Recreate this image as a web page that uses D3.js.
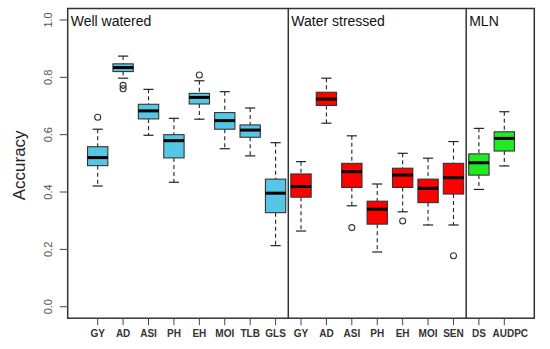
<!DOCTYPE html>
<html>
<head>
<meta charset="utf-8">
<script src="https://cdn.jsdelivr.net/npm/d3@7"></script>
<style>
  body { margin: 0; background: #fff; }
  svg { font-family: Arial, "Liberation Sans", sans-serif; }
</style>
</head>
<body>
<div id="chart"></div>
<script>
// trait labels, one per box
const labels = ["GY", "AD", "ASI", "PH", "EH", "MOI", "TLB", "GLS",
                "GY", "AD", "ASI", "PH", "EH", "MOI", "SEN",
                "DS", "AUDPC"];
const groups = ["WW", "WW", "WW", "WW", "WW", "WW", "WW", "WW",
                "WS", "WS", "WS", "WS", "WS", "WS", "WS",
                "MLN", "MLN"];
// box stats
const lowWhisker = [0.421, 0.797, 0.598, 0.434, 0.654, 0.551, 0.526, 0.213,
                    0.264, 0.640, 0.352, 0.191, 0.331, 0.285, 0.285,
                    0.409, 0.491];
const q1 = [0.492, 0.820, 0.655, 0.519, 0.707, 0.619, 0.591, 0.328,
            0.382, 0.702, 0.416, 0.288, 0.416, 0.363, 0.393,
            0.459, 0.543];
const medians = [0.520, 0.834, 0.683, 0.579, 0.730, 0.649, 0.616, 0.396,
                 0.419, 0.724, 0.471, 0.340, 0.459, 0.413, 0.450,
                 0.502, 0.587];
const q3 = [0.558, 0.847, 0.706, 0.600, 0.744, 0.677, 0.634, 0.445,
            0.463, 0.748, 0.500, 0.368, 0.483, 0.445, 0.500,
            0.533, 0.610];
const highWhisker = [0.619, 0.874, 0.758, 0.657, 0.788, 0.750, 0.693, 0.572,
                     0.506, 0.797, 0.596, 0.428, 0.535, 0.518, 0.576,
                     0.622, 0.680];
// outliers: [box index, value]
const outliers = [[0, 0.661], [1, 0.772], [1, 0.760], [4, 0.808],
                  [10, 0.276], [12, 0.299], [14, 0.178]];
const panelTitles = ["Well watered", "Water stressed", "MLN"];
const panelStarts = [-0.18, 8.5, 15.5];
const yTicks = [0, 0.2, 0.4, 0.6, 0.8, 1.0];

const colors = { WW: "#55c6e6", WS: "#ff0000", MLN: "#22ea22" };

const width = 550, height = 349;
const svg = d3.select("#chart").append("svg")
  .attr("width", width)
  .attr("height", height);

// R style axis extents: xlim 0.5..17.5 and ylim 0..1 padded by 4%
const x = d3.scaleLinear().domain([-0.18, 18.18]).range([67.7, 534.3]);
const y = d3.scaleLinear().domain([-0.04, 1.04]).range([318.2, 8.5]);

const step = x(2) - x(1);
const boxW = step * 0.8;
const capW = boxW * 0.5;

const data = labels.map((l, i) => ({
  label: l, group: groups[i], pos: i + 1,
  lo: lowWhisker[i], q1: q1[i], med: medians[i], q3: q3[i], hi: highWhisker[i]
}));

const boxes = svg.append("g").selectAll("g")
  .data(data)
  .enter().append("g");

// whiskers (dashed)
boxes.append("line")
  .attr("x1", d => x(d.pos)).attr("x2", d => x(d.pos))
  .attr("y1", d => y(d.hi)).attr("y2", d => y(d.q3))
  .attr("stroke", "#222").attr("stroke-width", 1.1)
  .attr("stroke-dasharray", "4,3");
boxes.append("line")
  .attr("x1", d => x(d.pos)).attr("x2", d => x(d.pos))
  .attr("y1", d => y(d.q1)).attr("y2", d => y(d.lo))
  .attr("stroke", "#222").attr("stroke-width", 1.1)
  .attr("stroke-dasharray", "4,3");

// staples
boxes.selectAll(".cap")
  .data(d => [d.lo, d.hi].map(v => ({ pos: d.pos, v: v })))
  .enter().append("line")
  .attr("x1", d => x(d.pos) - capW / 2).attr("x2", d => x(d.pos) + capW / 2)
  .attr("y1", d => y(d.v)).attr("y2", d => y(d.v))
  .attr("stroke", "#222").attr("stroke-width", 1.2);

// boxes
boxes.append("rect")
  .attr("x", d => x(d.pos) - boxW / 2)
  .attr("width", boxW)
  .attr("y", d => y(d.q3))
  .attr("height", d => y(d.q1) - y(d.q3))
  .attr("fill", d => colors[d.group])
  .attr("stroke", "#333").attr("stroke-width", 1.1);

// medians
boxes.append("line")
  .attr("x1", d => x(d.pos) - boxW / 2).attr("x2", d => x(d.pos) + boxW / 2)
  .attr("y1", d => y(d.med)).attr("y2", d => y(d.med))
  .attr("stroke", "#000").attr("stroke-width", 3);

// outliers
svg.append("g").selectAll("circle")
  .data(outliers)
  .enter().append("circle")
  .attr("cx", d => x(d[0] + 1))
  .attr("cy", d => y(d[1]))
  .attr("r", 3)
  .attr("fill", "none")
  .attr("stroke", "#333").attr("stroke-width", 1.1);

// frame + panel separators
svg.append("rect")
  .attr("x", x(-0.18)).attr("y", y(1.04))
  .attr("width", x(18.18) - x(-0.18))
  .attr("height", y(-0.04) - y(1.04))
  .attr("fill", "none").attr("stroke", "#333").attr("stroke-width", 1.5);

svg.append("g").selectAll("line")
  .data(panelStarts.slice(1))
  .enter().append("line")
  .attr("x1", d => x(d)).attr("x2", d => x(d))
  .attr("y1", y(1.04)).attr("y2", y(-0.04))
  .attr("stroke", "#333").attr("stroke-width", 1.5);

svg.append("g").selectAll("text")
  .data(panelTitles)
  .enter().append("text")
  .attr("x", (d, i) => x(panelStarts[i]) + 3)
  .attr("y", y(1.04) + 17)
  .attr("font-size", "14px")
  .attr("fill", "#111")
  .text(d => d);

// y axis
const yAxis = svg.append("g");
yAxis.selectAll("line")
  .data(yTicks)
  .enter().append("line")
  .attr("x1", x(-0.18) - 8).attr("x2", x(-0.18))
  .attr("y1", d => y(d)).attr("y2", d => y(d))
  .attr("stroke", "#444").attr("stroke-width", 1);
yAxis.selectAll("text")
  .data(yTicks)
  .enter().append("text")
  .attr("transform", d => `translate(${x(-0.18) - 16},${y(d)}) rotate(-90)`)
  .attr("text-anchor", "middle")
  .attr("font-size", "11px")
  .attr("fill", "#555")
  .text(d => d.toFixed(1));

svg.append("text")
  .attr("transform", `translate(25,${(y(0) + y(1)) / 2 + 2}) rotate(-90)`)
  .attr("text-anchor", "middle")
  .attr("font-size", "17px")
  .attr("fill", "#222")
  .text("Accuracy");

// x axis
const xAxis = svg.append("g");
xAxis.selectAll("line")
  .data(data)
  .enter().append("line")
  .attr("x1", d => x(d.pos)).attr("x2", d => x(d.pos))
  .attr("y1", y(-0.04)).attr("y2", y(-0.04) + 7)
  .attr("stroke", "#444").attr("stroke-width", 1);
xAxis.selectAll("text")
  .data(data)
  .enter().append("text")
  // last label is nudged right in the original so it clears "DS"
  .attr("x", (d, i) => x(d.pos) + (i === data.length - 1 ? 6 : 0))
  .attr("y", y(-0.04) + 19)
  .attr("text-anchor", "middle")
  .attr("font-size", "10px")
  .attr("font-weight", "bold")
  .attr("fill", "#333")
  .text(d => d.label);
</script>
</body>
</html>
